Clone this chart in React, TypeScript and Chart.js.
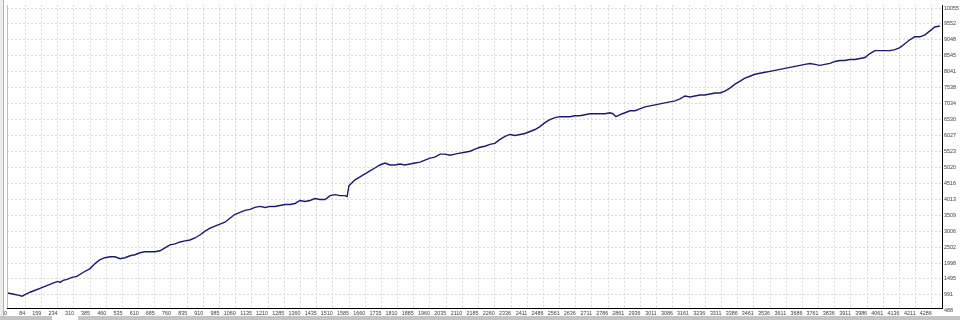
import React, { useEffect, useRef } from "react";
import { Chart, registerables } from "chart.js";

Chart.register(...registerables);

// trade number (x) and balance (y)
const tradeIndex = [
  0, 9, 32, 51, 70, 88, 107, 130, 153, 176, 199, 222, 236, 246, 260, 278, 301, 324, 352, 385, 408, 431,
  454, 477, 500, 524, 547, 570, 593, 616, 639, 663, 686, 709, 732, 755, 779, 802, 825, 848, 871, 894,
  918, 941, 964, 987, 1010, 1033, 1057, 1080, 1103, 1126, 1149, 1172, 1196, 1219, 1242, 1265, 1288,
  1311, 1335, 1358, 1381, 1404, 1427, 1450, 1474, 1497, 1520, 1543, 1566, 1576, 1585, 1599, 1613,
  1636, 1659, 1682, 1705, 1728, 1752, 1775, 1798, 1821, 1844, 1867, 1891, 1914, 1937, 1960, 1983,
  2007, 2030, 2053, 2076, 2099, 2122, 2146, 2169, 2192, 2215, 2238, 2261, 2285, 2308, 2331, 2354,
  2377, 2400, 2424, 2447, 2470, 2493, 2516, 2539, 2563, 2586, 2609, 2632, 2655, 2678, 2702, 2725,
  2748, 2771, 2794, 2808, 2822, 2841, 2864, 2887, 2910, 2933, 2956, 2980, 3003, 3026, 3049, 3072,
  3096, 3119, 3142, 3165, 3188, 3211, 3234, 3258, 3281, 3304, 3327, 3350, 3374, 3397, 3420, 3443,
  3466, 3489, 3513, 3536, 3559, 3582, 3605, 3628, 3652, 3675, 3698, 3721, 3744, 3767, 3790, 3814,
  3837, 3860, 3883, 3906, 3929, 3953, 3976, 3999, 4022, 4045, 4068, 4092, 4115, 4138, 4161, 4184,
  4207, 4231, 4254, 4277, 4300, 4323,
];

const balance = [
  1050, 1045, 1014, 983, 952, 1014, 1076, 1139, 1201, 1263, 1326, 1388, 1419, 1388, 1450, 1481, 1544,
  1575, 1700, 1824, 1980, 2105, 2167, 2198, 2198, 2136, 2167, 2229, 2260, 2323, 2354, 2354, 2354,
  2385, 2479, 2572, 2603, 2665, 2697, 2728, 2790, 2884, 3008, 3102, 3164, 3226, 3289, 3413, 3538,
  3600, 3663, 3694, 3756, 3787, 3756, 3787, 3787, 3818, 3850, 3850, 3881, 3974, 3943, 3974, 4036,
  4005, 4005, 4130, 4161, 4130, 4130, 4099, 4442, 4535, 4629, 4722, 4815, 4909, 5002, 5096, 5158,
  5096, 5096, 5127, 5096, 5127, 5158, 5189, 5252, 5314, 5345, 5439, 5439, 5407, 5439, 5470, 5501,
  5532, 5595, 5657, 5688, 5750, 5781, 5906, 5999, 6061, 6030, 6061, 6093, 6155, 6218, 6311, 6436,
  6529, 6592, 6623, 6623, 6623, 6654, 6654, 6685, 6716, 6716, 6716, 6716, 6747, 6716, 6623, 6685,
  6747, 6810, 6810, 6872, 6934, 6966, 6997, 7028, 7059, 7090, 7121, 7184, 7277, 7246, 7277, 7308,
  7308, 7339, 7371, 7371, 7433, 7526, 7651, 7744, 7838, 7900, 7963, 7994, 8025, 8056, 8087, 8118,
  8150, 8181, 8212, 8243, 8274, 8305, 8274, 8243, 8274, 8305, 8368, 8399, 8399, 8430, 8430, 8461,
  8492, 8617, 8710, 8710, 8710, 8710, 8742, 8804, 8929, 9053, 9147, 9147, 9209, 9334, 9458, 9489,
];

const xTickLabels = [
  0, 84, 159, 234, 310, 385, 460, 535, 610, 685, 760, 835, 910, 985, 1060, 1135, 1210, 1285, 1360,
  1435, 1510, 1585, 1660, 1735, 1810, 1885, 1960, 2035, 2110, 2185, 2260, 2336, 2411, 2486, 2561,
  2636, 2711, 2786, 2861, 2936, 3011, 3086, 3161, 3236, 3311, 3386, 3461, 3536, 3611, 3686, 3761,
  3836, 3911, 3986, 4061, 4136, 4211, 4286,
];

const yTickLabels = [
  488, 991, 1495, 1998, 2502, 3006, 3509, 4013, 4516, 5020, 5523, 6027, 6530, 7034, 7538, 8041,
  8545, 9048, 9552, 10055,
];

const X_MIN = 0;
const X_MAX = 4333;
const Y_MIN = 578;
const Y_MAX = 10144;

const TICK_FONT = { family: "'Liberation Sans', Arial, sans-serif", size: 5.4 };
const GRID_COLOR = "#d9d9d9";

const leftBorder = {
  id: "leftBorder",
  afterDraw(chart: any) {
    const { ctx, chartArea } = chart;
    ctx.save();
    ctx.strokeStyle = "#b8bcc6";
    ctx.lineWidth = 1;
    ctx.beginPath();
    ctx.moveTo(chartArea.left + 0.5, chartArea.top);
    ctx.lineTo(chartArea.left + 0.5, chartArea.bottom);
    ctx.stroke();
    ctx.restore();
  },
};

export default function App() {
  const ref = useRef<HTMLCanvasElement>(null);

  useEffect(() => {
    document.body.style.margin = "0";
    const canvas = ref.current;
    if (!canvas) return;
    const chart = new Chart(canvas, {
      type: "line",
      data: {
        datasets: [
          {
            data: tradeIndex.map((x, i) => ({ x, y: balance[i] })),
            borderColor: "#1a1a72",
            borderWidth: 1.4,
            pointRadius: 0,
            tension: 0,
            fill: false,
          },
        ],
      },
      options: {
        animation: false,
        responsive: false,
        maintainAspectRatio: false,
        events: [],
        layout: { padding: { left: 7, top: 1, right: 0, bottom: 0 } },
        plugins: { legend: { display: false }, tooltip: { enabled: false } },
        scales: {
          x: {
            type: "linear",
            min: X_MIN,
            max: X_MAX,
            afterBuildTicks: (s: any) => {
              s.ticks = xTickLabels.map((v) => ({ value: v }));
            },
            afterFit: (s: any) => {
              s.height = 8;
            },
            grid: { color: GRID_COLOR, lineWidth: 1, drawTicks: false },
            border: { display: true, color: "#000", width: 1, dash: [2, 2] },
            ticks: {
              autoSkip: false,
              maxRotation: 0,
              minRotation: 0,
              align: "end",
              padding: 2,
              color: "#3a3a3a",
              font: TICK_FONT,
              callback: (_v: any, i: number) => String(xTickLabels[i]),
            },
          },
          y: {
            type: "linear",
            position: "right",
            min: Y_MIN,
            max: Y_MAX,
            afterBuildTicks: (s: any) => {
              s.ticks = yTickLabels.map((v) => ({ value: v }));
            },
            afterFit: (s: any) => {
              s.width = 18;
            },
            grid: {
              color: (c: any) => (c.tick && c.tick.value < Y_MIN ? "rgba(0,0,0,0)" : GRID_COLOR),
              lineWidth: 1,
              drawTicks: false,
            },
            border: { display: true, color: "#000", width: 1, dash: [2, 2] },
            ticks: {
              autoSkip: false,
              padding: 2,
              color: "#3a3a3a",
              font: TICK_FONT,
              callback: (_v: any, i: number) => String(yTickLabels[i]),
            },
          },
        },
      } as any,
      plugins: [leftBorder],
    });
    return () => chart.destroy();
  }, []);

  return (
    <div style={{ position: "relative", width: 960, height: 320, background: "#fff", overflow: "hidden" }}>
      <canvas ref={ref} width={960} height={316} style={{ display: "block", width: 960, height: 316 }} />
      <div style={{ position: "absolute", left: 0, top: 0, width: 3, height: 316, background: "#ececec", borderRight: "1px solid #a9b0bf" }} />
      <div style={{ position: "absolute", left: 0, top: 316, width: 960, height: 4, background: "#c4c4c4" }} />
      <div style={{ position: "absolute", left: 52, top: 316, width: 26, height: 4, background: "#ffffff" }} />
    </div>
  );
}
